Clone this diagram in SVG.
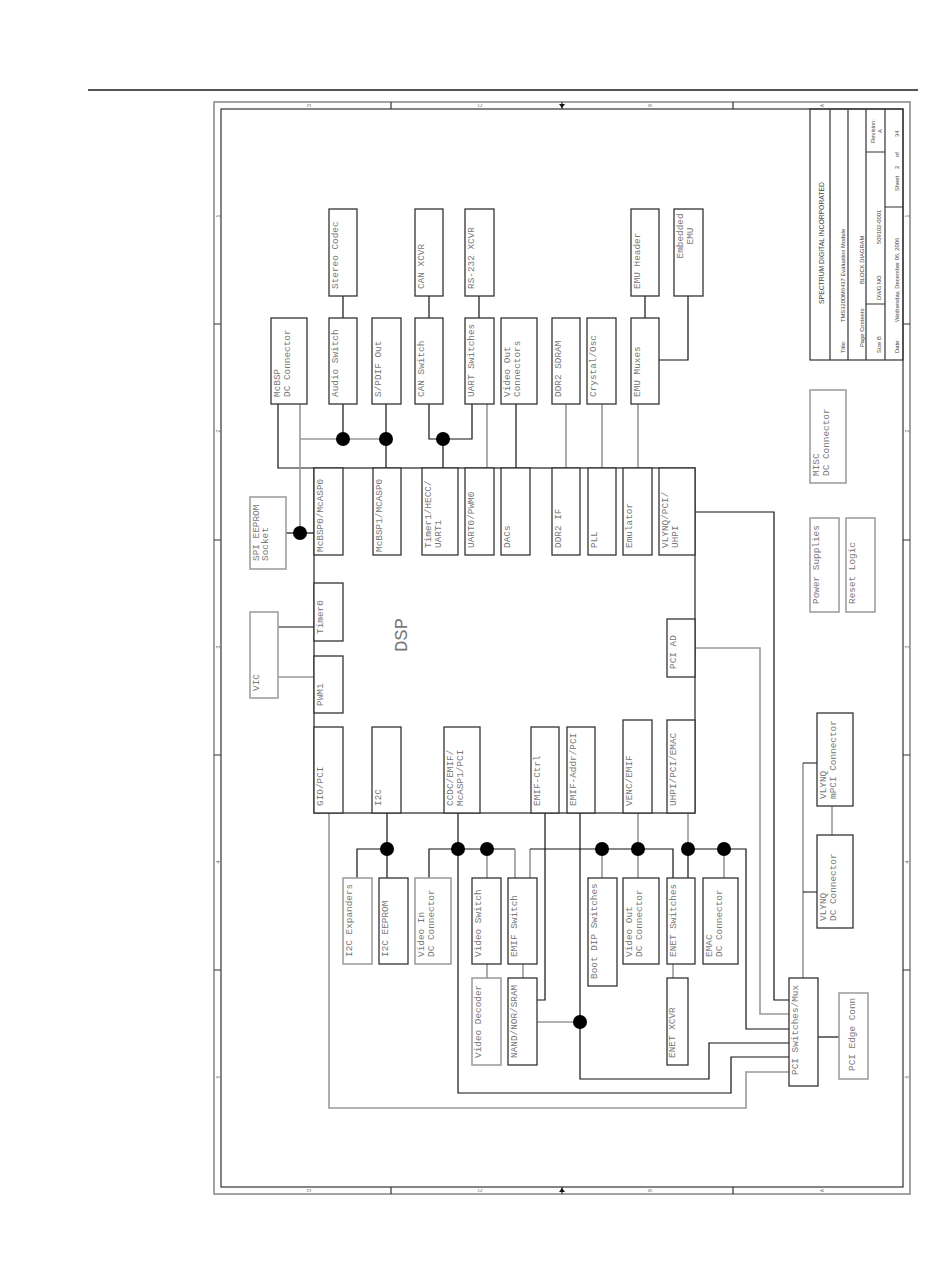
<svg xmlns="http://www.w3.org/2000/svg" width="950" height="1284" viewBox="0 0 950 1284">
<style>
.b{fill:#fff;stroke:#333;stroke-width:1.3}
.bg{fill:#fff;stroke:#999;stroke-width:1.5}
.t{font-family:"Liberation Mono","DejaVu Sans Mono",monospace;font-size:9.4px;fill:#777}
.k{fill:none;stroke:#111;stroke-width:1.2}
.g{fill:none;stroke:#999;stroke-width:1.6}
.tb{font-family:"Liberation Sans",Arial,sans-serif;font-size:5.8px;fill:#444}
.bl{font-family:"Liberation Sans",Arial,sans-serif;font-size:5px;fill:#666}
.fr{fill:none;stroke:#333;stroke-width:1.2}
</style>
<rect width="950" height="1284" fill="#fff"/>
<line x1="88" y1="90" x2="918" y2="90" stroke="#555" stroke-width="2"/>

<g id="frame">
<rect x="214" y="102" width="696" height="1092" fill="none" stroke="#999" stroke-width="1.8"/>
<rect x="221" y="109" width="682" height="1078" class="fr"/>
<path class="fr" d="M391,102V109M733,102V109M391,1187V1194M733,1187V1194M562,102V109M562,1187V1194M214,324H221M214,540H221M214,755H221M214,970H221M903,324H910M903,540H910M903,755H910M903,970H910"/>
<path d="M559,104L565,104L562,108Z M559,1192L565,1192L562,1188Z" fill="#111"/>
<g class="bl" text-anchor="middle">
<text transform="translate(311,105.5) rotate(-90)">D</text>
<text transform="translate(482,105.5) rotate(-90)">C</text>
<text transform="translate(652,105.5) rotate(-90)">B</text>
<text transform="translate(824,105.5) rotate(-90)">A</text>
<text transform="translate(311,1190.5) rotate(-90)">D</text>
<text transform="translate(482,1190.5) rotate(-90)">C</text>
<text transform="translate(652,1190.5) rotate(-90)">B</text>
<text transform="translate(824,1190.5) rotate(-90)">A</text>
<text transform="translate(219.5,216) rotate(-90)">1</text>
<text transform="translate(219.5,431) rotate(-90)">2</text>
<text transform="translate(219.5,647) rotate(-90)">3</text>
<text transform="translate(219.5,862) rotate(-90)">4</text>
<text transform="translate(219.5,1077) rotate(-90)">5</text>
<text transform="translate(908.5,216) rotate(-90)">1</text>
<text transform="translate(908.5,431) rotate(-90)">2</text>
<text transform="translate(908.5,647) rotate(-90)">3</text>
<text transform="translate(908.5,862) rotate(-90)">4</text>
<text transform="translate(908.5,1077) rotate(-90)">5</text>
</g>
</g>

<g id="title-block">
<rect x="810" y="109" width="93" height="251" class="fr"/>
<path class="fr" d="M830,109V360M848,109V360M866,109V360M885,109V360M866,152H885M866,304H885M885,207H903"/>
<text class="tb" style="font-size:6.8px" text-anchor="middle" transform="translate(824,243) rotate(-90)">SPECTRUM DIGITAL INCORPORATED</text>
<text class="tb" transform="translate(845,353) rotate(-90)">Title:</text>
<text class="tb" transform="translate(845,322) rotate(-90)">TMS320DM6437 Evaluation Module</text>
<text class="tb" transform="translate(864,347) rotate(-90)">Page Contents:</text>
<text class="tb" transform="translate(864,284) rotate(-90)">BLOCK DIAGRAM</text>
<text class="tb" transform="translate(881,353) rotate(-90)">Size B</text>
<text class="tb" transform="translate(881,300) rotate(-90)">DWG NO</text>
<text class="tb" transform="translate(881,244) rotate(-90)">509102-0001</text>
<text class="tb" text-anchor="middle" transform="translate(875,131) rotate(-90)">Revision:</text>
<text class="tb" text-anchor="middle" transform="translate(882,131) rotate(-90)">A</text>
<text class="tb" transform="translate(899,353) rotate(-90)">Date:</text>
<text class="tb" transform="translate(899,322) rotate(-90)">Wednesday, December 06, 2006</text>
<text class="tb" transform="translate(899,191) rotate(-90)">Sheet</text>
<text class="tb" transform="translate(899,169) rotate(-90)">2</text>
<text class="tb" transform="translate(899,157) rotate(-90)">of</text>
<text class="tb" transform="translate(899,137) rotate(-90)">34</text>
</g>

<g id="connectors">
<path class="k" d="M278,404V468H314"/>
<path class="k" d="M343,296V318M429,296V318M479,296V318M645,296V318"/>
<path class="k" d="M688,296V360H659"/>
<path class="k" d="M343,404V439M386,404V468"/>
<path class="k" d="M429,404V439H472V404M443,439V468M516,404V468"/>
<path class="g" d="M300,404V533M300,439H386"/>
<path class="g" d="M487,404V468M566,404V468M602,404V468M638,404V468"/>
<path class="k" d="M286,533H314"/>
<path class="k" d="M278,627H314"/>
<path class="g" d="M278,677H314"/>
<path class="k" d="M695,512H774V1000H789"/>
<path class="g" d="M695,648H760V1014H789"/>
<path class="g" d="M329,813V1108H746V1072H789"/>
<path class="k" d="M387,813V878M357,878V849H387"/>
<path class="k" d="M458,813V1093H731V1057H789"/>
<path class="k" d="M429,878V849H515"/>
<path class="g" d="M487,849V878M515,849V878"/>
<path class="k" d="M545,813V1000H537"/>
<path class="k" d="M580,813V1079H709V1043H789"/>
<path class="g" d="M537,1022H580"/>
<path class="g" d="M487,964V978M523,964V978"/>
<path class="g" d="M530,878V849"/>
<path class="k" d="M530,849H673V878"/>
<path class="g" d="M602,849V878M638,813V878M724,849V878M688,813V849"/>
<path class="k" d="M688,849V878M688,849H746V1029H789"/>
<path class="g" d="M673,964V978"/>
<path class="g" d="M803,763V978M832,806V835"/>
<path class="k" d="M803,763H817M803,892H817"/>
<path class="k" d="M818,1037H839"/>
<g fill="#000">
<circle cx="300" cy="533" r="7"/>
<circle cx="343" cy="439" r="7"/>
<circle cx="386" cy="439" r="7"/>
<circle cx="443" cy="439" r="7"/>
<circle cx="387" cy="849" r="7"/>
<circle cx="458" cy="849" r="7"/>
<circle cx="487" cy="849" r="7"/>
<circle cx="602" cy="849" r="7"/>
<circle cx="638" cy="849" r="7"/>
<circle cx="688" cy="849" r="7"/>
<circle cx="724" cy="849" r="7"/>
<circle cx="580" cy="1022" r="7"/>
</g>
</g>

<g id="n-stereo-codec"><rect class="b" x="329" y="209" width="28" height="87"/><text class="t" transform="translate(337.5,289) rotate(-90)">Stereo Codec</text></g>
<g id="n-can-xcvr"><rect class="b" x="415" y="209" width="28" height="87"/><text class="t" transform="translate(423.5,289) rotate(-90)">CAN XCVR</text></g>
<g id="n-rs232-xcvr"><rect class="b" x="465" y="209" width="29" height="87"/><text class="t" transform="translate(473.5,289) rotate(-90)">RS-232 XCVR</text></g>
<g id="n-emu-header"><rect class="b" x="631" y="209" width="28" height="87"/><text class="t" transform="translate(639.5,289) rotate(-90)">EMU Header</text></g>
<g id="n-embedded-emu"><rect class="b" x="674" y="209" width="29" height="87"/><text class="t" text-anchor="middle" transform="translate(683,236) rotate(-90)">Embedded<tspan x="0" dy="9.5">EMU</tspan></text></g>

<g id="n-mcbsp-dc"><rect class="b" x="271" y="318" width="36" height="86"/><text class="t" transform="translate(279.5,397) rotate(-90)">McBSP<tspan x="0" dy="10">DC Connector</tspan></text></g>
<g id="n-audio-switch"><rect class="b" x="329" y="318" width="28" height="86"/><text class="t" transform="translate(337.5,397) rotate(-90)">Audio Switch</text></g>
<g id="n-spdif-out"><rect class="b" x="372" y="318" width="29" height="86"/><text class="t" transform="translate(380.5,397) rotate(-90)">S/PDIF Out</text></g>
<g id="n-can-switch"><rect class="b" x="415" y="318" width="28" height="86"/><text class="t" transform="translate(423.5,397) rotate(-90)">CAN Switch</text></g>
<g id="n-uart-switches"><rect class="b" x="465" y="318" width="29" height="86"/><text class="t" transform="translate(473.5,397) rotate(-90)">UART Switches</text></g>
<g id="n-video-out-conn"><rect class="b" x="501" y="318" width="36" height="86"/><text class="t" transform="translate(509.5,397) rotate(-90)">Video Out<tspan x="0" dy="10">Connectors</tspan></text></g>
<g id="n-ddr2-sdram"><rect class="b" x="552" y="318" width="28" height="86"/><text class="t" transform="translate(560.5,397) rotate(-90)">DDR2 SDRAM</text></g>
<g id="n-crystal-osc"><rect class="b" x="587" y="318" width="29" height="86"/><text class="t" transform="translate(595.5,397) rotate(-90)">Crystal/Osc</text></g>
<g id="n-emu-muxes"><rect class="b" x="631" y="318" width="28" height="86"/><text class="t" transform="translate(639.5,397) rotate(-90)">EMU Muxes</text></g>

<g id="n-dsp">
<rect class="b" x="314" y="468" width="381" height="345"/>
<text class="t" style="font-size:19px" text-anchor="middle" transform="translate(407,635) rotate(-90)">DSP</text>
<rect class="b" x="314" y="468" width="29" height="87"/><text class="t" transform="translate(322.5,552) rotate(-90)">McBSP0/McASP0</text>
<rect class="b" x="373" y="468" width="28" height="87"/><text class="t" transform="translate(381.5,552) rotate(-90)">McBSP1/MCASP0</text>
<rect class="b" x="422" y="468" width="36" height="87"/><text class="t" transform="translate(430.5,548) rotate(-90)">Timer1/HECC/<tspan x="0" dy="10">UART1</tspan></text>
<rect class="b" x="465" y="468" width="29" height="87"/><text class="t" transform="translate(473.5,548) rotate(-90)">UART0/PWM0</text>
<rect class="b" x="501" y="468" width="29" height="87"/><text class="t" transform="translate(509.5,548) rotate(-90)">DACs</text>
<rect class="b" x="552" y="468" width="28" height="87"/><text class="t" transform="translate(560.5,548) rotate(-90)">DDR2 IF</text>
<rect class="b" x="588" y="468" width="28" height="87"/><text class="t" transform="translate(596.5,548) rotate(-90)">PLL</text>
<rect class="b" x="623" y="468" width="29" height="87"/><text class="t" transform="translate(631.5,548) rotate(-90)">Emulator</text>
<rect class="b" x="659" y="468" width="36" height="87"/><text class="t" transform="translate(667.5,548) rotate(-90)">VLYNQ/PCI/<tspan x="0" dy="10">UHPI</tspan></text>
<rect class="b" x="314" y="583" width="29" height="58"/><text class="t" transform="translate(322.5,634) rotate(-90)">Timer0</text>
<rect class="b" x="314" y="656" width="29" height="57"/><text class="t" transform="translate(322.5,706) rotate(-90)">PWM1</text>
<rect class="b" x="667" y="619" width="28" height="58"/><text class="t" transform="translate(675.5,669) rotate(-90)">PCI AD</text>
<rect class="b" x="314" y="727" width="29" height="86"/><text class="t" transform="translate(322.5,806) rotate(-90)">GIO/PCI</text>
<rect class="b" x="372" y="727" width="29" height="86"/><text class="t" transform="translate(380.5,806) rotate(-90)">I2C</text>
<rect class="b" x="444" y="727" width="36" height="86"/><text class="t" transform="translate(452.5,806) rotate(-90)">CCDC/EMIF/<tspan x="0" dy="10">McASP1/PCI</tspan></text>
<rect class="b" x="531" y="727" width="28" height="86"/><text class="t" transform="translate(539.5,806) rotate(-90)">EMIF-Ctrl</text>
<rect class="b" x="567" y="727" width="28" height="86"/><text class="t" transform="translate(575.5,806) rotate(-90)">EMIF-Addr/PCI</text>
<rect class="b" x="623" y="720" width="29" height="93"/><text class="t" transform="translate(631.5,806) rotate(-90)">VENC/EMIF</text>
<rect class="b" x="667" y="720" width="28" height="93"/><text class="t" transform="translate(675.5,806) rotate(-90)">UHPI/PCI/EMAC</text>
</g>

<g id="n-spi-eeprom"><rect class="bg" x="250" y="497" width="36" height="72"/><text class="t" transform="translate(258.5,561) rotate(-90)">SPI EEPROM<tspan x="0" dy="9">Socket</tspan></text></g>
<g id="n-vic"><rect class="bg" x="250" y="612" width="28" height="86"/><text class="t" transform="translate(258.5,691) rotate(-90)">VIC</text></g>
<g id="n-misc-dc"><rect class="bg" x="810" y="390" width="36" height="93"/><text class="t" transform="translate(818.5,476) rotate(-90)">MISC<tspan x="0" dy="10">DC Connector</tspan></text></g>
<g id="n-power"><rect class="bg" x="810" y="518" width="29" height="94"/><text class="t" transform="translate(818.5,604) rotate(-90)">Power Supplies</text></g>
<g id="n-reset"><rect class="bg" x="846" y="518" width="29" height="94"/><text class="t" transform="translate(854.5,604) rotate(-90)">Reset Logic</text></g>

<g id="n-i2c-expanders"><rect class="bg" x="343" y="878" width="29" height="86"/><text class="t" transform="translate(351.5,957) rotate(-90)">I2C Expanders</text></g>
<g id="n-i2c-eeprom"><rect class="b" x="379" y="878" width="29" height="86"/><text class="t" transform="translate(387.5,957) rotate(-90)">I2C EEPROM</text></g>
<g id="n-video-in"><rect class="bg" x="415" y="878" width="36" height="86"/><text class="t" transform="translate(423.5,957) rotate(-90)">Video In<tspan x="0" dy="10">DC Connector</tspan></text></g>
<g id="n-video-switch"><rect class="b" x="472" y="878" width="29" height="86"/><text class="t" transform="translate(480.5,957) rotate(-90)">Video Switch</text></g>
<g id="n-emif-switch"><rect class="b" x="508" y="878" width="29" height="86"/><text class="t" transform="translate(516.5,957) rotate(-90)">EMIF Switch</text></g>
<g id="n-boot-dip"><rect class="b" x="588" y="878" width="29" height="108"/><text class="t" transform="translate(596.5,979) rotate(-90)">Boot DIP Switches</text></g>
<g id="n-video-out-dc"><rect class="b" x="623" y="878" width="36" height="86"/><text class="t" transform="translate(631.5,957) rotate(-90)">Video Out<tspan x="0" dy="10">DC Connector</tspan></text></g>
<g id="n-enet-switches"><rect class="b" x="667" y="878" width="28" height="86"/><text class="t" transform="translate(675.5,957) rotate(-90)">ENET Switches</text></g>
<g id="n-emac-dc"><rect class="b" x="703" y="878" width="35" height="86"/><text class="t" transform="translate(711.5,957) rotate(-90)">EMAC<tspan x="0" dy="10">DC Connector</tspan></text></g>
<g id="n-video-decoder"><rect class="bg" x="472" y="978" width="29" height="87"/><text class="t" transform="translate(480.5,1058) rotate(-90)">Video Decoder</text></g>
<g id="n-nand"><rect class="b" x="508" y="978" width="29" height="87"/><text class="t" transform="translate(516.5,1058) rotate(-90)">NAND/NOR/SRAM</text></g>
<g id="n-enet-xcvr"><rect class="b" x="667" y="978" width="21" height="87"/><text class="t" transform="translate(675,1058) rotate(-90)">ENET XCVR</text></g>
<g id="n-vlynq-mpci"><rect class="b" x="817" y="713" width="36" height="93"/><text class="t" transform="translate(825.5,799) rotate(-90)">VLYNQ<tspan x="0" dy="10">mPCI Connector</tspan></text></g>
<g id="n-vlynq-dc"><rect class="b" x="817" y="835" width="36" height="93"/><text class="t" transform="translate(825.5,921) rotate(-90)">VLYNQ<tspan x="0" dy="10">DC Connector</tspan></text></g>
<g id="n-pci-switches"><rect class="b" x="789" y="978" width="29" height="108"/><text class="t" transform="translate(797.5,1075) rotate(-90)">PCI Switches/Mux</text></g>
<g id="n-pci-edge"><rect class="bg" x="839" y="993" width="29" height="86"/><text class="t" transform="translate(855,1071) rotate(-90)">PCI Edge Conn</text></g>
</svg>
